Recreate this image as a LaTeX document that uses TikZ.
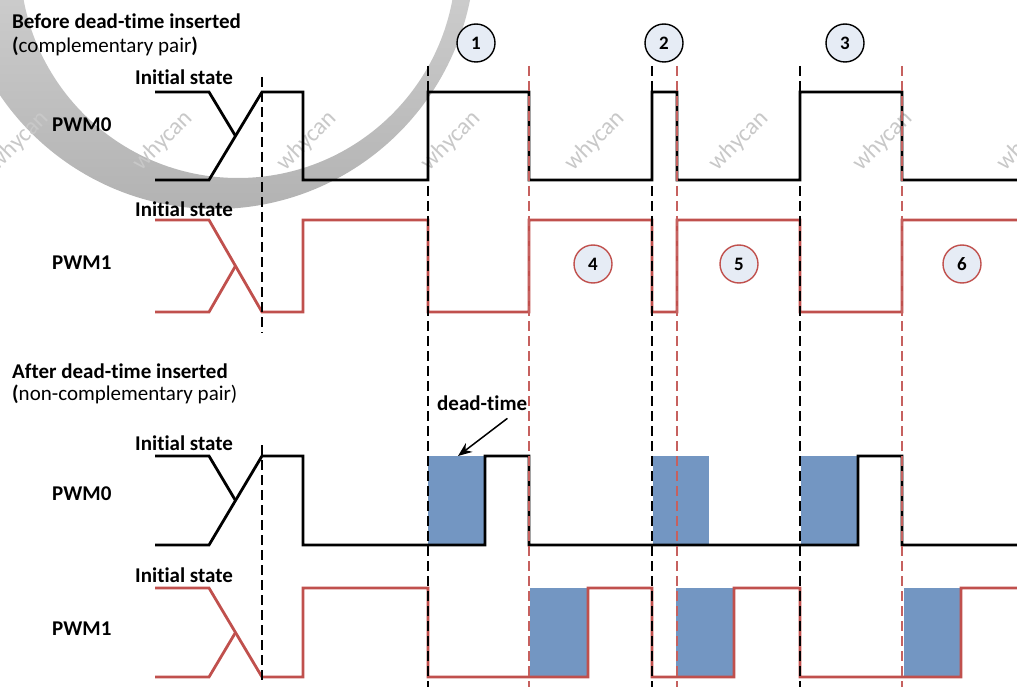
\documentclass[tikz,border=0pt]{standalone}
\usepackage{fontspec}
\setmainfont{Carlito}[Ligatures=NoCommon]
\usetikzlibrary{arrows.meta, positioning}
\definecolor{pwmred}{HTML}{C0504D}
\definecolor{dtblue}{HTML}{7396C2}
\definecolor{numfill}{HTML}{E6ECF5}
\definecolor{wmgray}{HTML}{C8C8C8}

\begin{document}
\begin{tikzpicture}[
  x=1pt, y=-1pt,
  lbl/.style  = {inner sep=0pt, anchor=base west, font=\fontsize{21}{24}\selectfont\bfseries},
  note/.style = {inner sep=0pt, anchor=base west, font=\fontsize{21}{24}\selectfont},
  num0/.style = {circle, draw=black, fill=numfill, line width=1.4pt, minimum size=38pt,
                 inner sep=0pt, font=\fontsize{19}{22}\selectfont\bfseries},
  num1/.style = {num0, draw=pwmred},
  sig0/.style = {line width=2.8pt, black},
  sig1/.style = {line width=2.8pt, pwmred},
  dt0/.style  = {line width=1.6pt, black, dash pattern=on 10pt off 5pt},
  dt1/.style  = {line width=1.6pt, pwmred!90, dash pattern=on 10pt off 5pt},
  dtbox/.style = {fill=dtblue},
  wm/.style   = {text=wmgray, rotate=45, inner sep=0pt, font=\fontsize{24}{24}\selectfont},
  arr/.style  = {-{Stealth[length=14pt, width=11pt]}, line width=1.5pt},
]
  \useasboundingbox (0,0) rectangle (1017,687);

  % watermark
  \begin{scope}
    \clip (0,0) rectangle (1017,687);
    \shade[even odd rule, top color=black!6, bottom color=black!30]
      (215,-51) circle [radius=260pt] (238,-40) circle [radius=218pt];
    \foreach \wx [count=\i] in {19,163,307,451,595,739,883,1027}
      \node[wm] (wm\i) at (\wx,141) {whycan};
  \end{scope}

  % dead-time boxes
  \fill[dtbox] (428,456) rectangle (485,545);
  \fill[dtbox] (653,456) rectangle (709,545);
  \fill[dtbox] (801,456) rectangle (858,545);
  \fill[dtbox] (530,588) rectangle (588,677);
  \fill[dtbox] (676,588) rectangle (734,677);
  \fill[dtbox] (904,588) rectangle (961,677);

  % before dead-time
  \draw[sig0] (155,92) -- (209,92) -- (235.5,136);
  \draw[sig0] (155,180) -- (209,180) -- (262,92) -- (303,92) -- (303,180) -- (428,180) -- (428,92)
    -- (529,92) -- (529,180) -- (652,180) -- (652,92) -- (677,92) -- (677,180) -- (800,180)
    -- (800,92) -- (902,92) -- (902,180) -- (1017,180);
  \draw[sig1] (155,312) -- (209,312) -- (235.5,266);
  \draw[sig1] (155,220) -- (209,220) -- (262,312) -- (303,312) -- (303,220) -- (428,220) -- (428,312)
    -- (529,312) -- (529,220) -- (652,220) -- (652,312) -- (677,312) -- (677,220) -- (800,220)
    -- (800,312) -- (902,312) -- (902,220) -- (1017,220);

  % after dead-time
  \draw[sig0] (155,456) -- (209,456) -- (235.5,500.5);
  \draw[sig0] (155,545) -- (209,545) -- (262,456) -- (303,456) -- (303,545) -- (485,545) -- (485,456)
    -- (529,456) -- (529,545) -- (858,545) -- (858,456) -- (902,456) -- (902,545) -- (1017,545);
  \draw[sig1] (155,677) -- (209,677) -- (235.5,632.5);
  \draw[sig1] (155,588) -- (209,588) -- (262,677) -- (303,677) -- (303,588) -- (428,588) -- (428,677)
    -- (588,677) -- (588,588) -- (652,588) -- (652,677) -- (734,677) -- (734,588) -- (800,588)
    -- (800,677) -- (961,677) -- (961,588) -- (1017,588);

  % switching instants
  \foreach \gx in {428,652,800}
    \draw[dt0] (\gx,66) -- (\gx,687);
  \foreach \gx in {529,677,902}
    \draw[dt1] (\gx,66) -- (\gx,687);
  \draw[dt0] (262,77) -- (262,333);
  \draw[dt0] (262,445) -- (262,682);

  % labels
  \node[lbl]  (hdA)    at (12,29)  {Before dead-time inserted};
  \node[note] (subA)   at (12,53)  {\textbf{(}complementary pair\textbf{)}};
  \node[lbl]  (initA0) at (135,85) {Initial state};
  \node[lbl]  (pwmA0)  at (52,132) {PWM0};
  \node[lbl]  (initA1) at (135,216) {Initial state};
  \node[lbl]  (pwmA1)  at (52,269) {PWM1};
  \node[lbl]  (hdB)    at (12,378) {After dead-time inserted};
  \node[note] (subB)   at (12,400) {\textbf{(}non-complementary pair)};
  \node[lbl]  (dtlbl)  at (437,410) {dead-time};
  \node[lbl]  (initB0) at (135,450) {Initial state};
  \node[lbl]  (pwmB0)  at (52,500) {PWM0};
  \node[lbl]  (initB1) at (135,582) {Initial state};
  \node[lbl]  (pwmB1)  at (52,635) {PWM1};

  \coordinate (dtTip) at (458,456);
  \draw[arr] ([xshift=-20pt, yshift=-8pt]dtlbl.south east) -- (dtTip);

  % numbered intervals
  \node[num0] (n1) at (476,43) {1};
  \node[num0] (n2) at (664,43) {2};
  \node[num0] (n3) at (845,43) {3};
  \node[num1] (n4) at (593,264) {4};
  \node[num1] (n5) at (739,264) {5};
  \node[num1] (n6) at (962,264) {6};
\end{tikzpicture}
\end{document}
